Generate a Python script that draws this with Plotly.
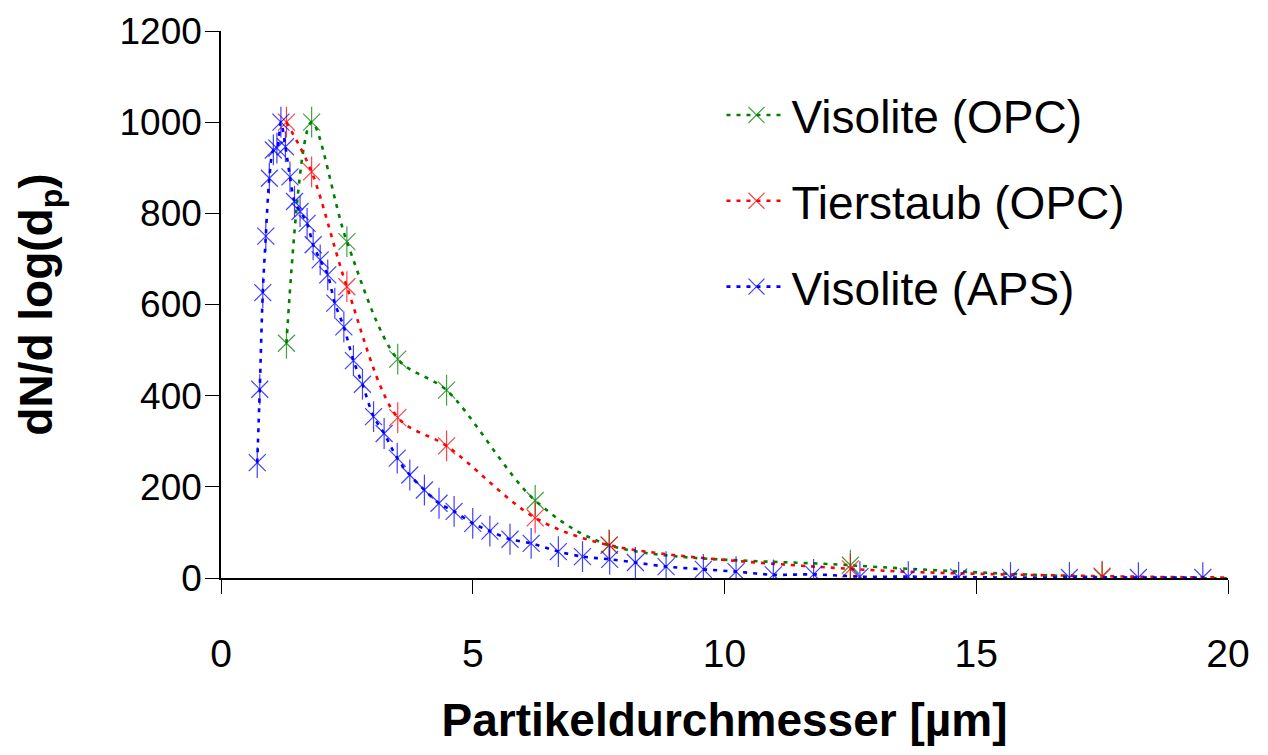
import plotly.graph_objects as go

# ---- data ----
opc_x = [1.30, 1.80, 2.50, 3.51, 4.48, 6.24, 7.71, 12.5, 17.5, 22.5]
visolite_opc_y = [515, 1000, 738, 480, 412, 170, 72, 28, 2, 0]
tierstaub_opc_y = [1000, 891, 639, 352, 290, 132, 72, 20, 4, 0]

aps_x = [0.72, 0.77, 0.83, 0.89, 0.96, 1.04, 1.11, 1.19, 1.28, 1.37, 1.46, 1.57,
         1.71, 1.83, 1.97, 2.12, 2.26, 2.44, 2.63, 2.81, 3.03, 3.24, 3.50, 3.75,
         4.04, 4.33, 4.63, 5.00, 5.34, 5.74, 6.16, 6.70, 7.18, 7.72, 8.23, 8.84,
         9.58, 10.23, 10.97, 11.77, 12.69, 13.65, 14.65, 15.68, 16.85, 18.22, 19.50]
visolite_aps_y = [253, 414, 626, 750, 877, 939, 943, 1000, 946, 880, 826, 804,
                  778, 731, 698, 665, 603, 551, 477, 425, 354, 317, 263, 226,
                  193, 164, 146, 120, 103, 85, 76, 58, 47, 41, 34, 25,
                  19, 14, 7, 8, 3, 3, 2, 1, 1, 1, 1]

series = [
    ("Visolite (OPC)", opc_x, visolite_opc_y, "#008000"),
    ("Tierstaub (OPC)", opc_x, tierstaub_opc_y, "#FF0000"),
    ("Visolite (APS)", aps_x, visolite_aps_y, "#0000FF"),
]

fig = go.Figure()
for i, (name, xs, ys, col) in enumerate(series):
    fig.add_trace(go.Scatter(
        x=xs, y=ys, name=name, mode="lines+markers", legendgroup=name,
        line=dict(color=col, width=2.6, dash="4px,6px", shape="spline", smoothing=0.9),
        marker=dict(symbol="x-thin-open", size=17, color=col, opacity=0.75,
                    line=dict(color=col, width=1.2)),
        cliponaxis=True,
    ))
    fig.add_trace(go.Scatter(
        x=xs, y=ys, name=name, mode="markers", legendgroup=name, showlegend=False,
        marker=dict(symbol="line-ns-open", size=22, color=col, opacity=0.75,
                    line=dict(color=col, width=1.2)),
        hoverinfo="skip",
    ))

fig.update_layout(
    width=1268, height=755,
    margin=dict(l=221, r=40, t=31, b=177),
    plot_bgcolor="white", paper_bgcolor="white",
    font=dict(family="Liberation Sans, Arial, sans-serif", color="black"),
    legend=dict(x=0.497, y=0.913, xanchor="left", yanchor="top",
                font=dict(size=46), bgcolor="rgba(0,0,0,0)",
                tracegroupgap=23, itemwidth=60),
    showlegend=True,
)
fig.update_xaxes(
    range=[0, 20], tickvals=[0, 5, 10, 15, 20],
    ticks="outside", ticklen=14, tickwidth=1, tickcolor="black",
    showline=True, linecolor="black", linewidth=1.5,
    showgrid=False, zeroline=False,
    tickfont=dict(size=39), ticklabelstandoff=26,
    title=dict(text="<b>Partikeldurchmesser [µm]</b>", font=dict(size=46), standoff=30),
)
fig.update_yaxes(
    range=[0, 1200], tickvals=[0, 200, 400, 600, 800, 1000, 1200],
    ticks="outside", ticklen=14, tickwidth=1, tickcolor="black",
    showline=True, linecolor="black", linewidth=1.5,
    showgrid=False, zeroline=False,
    tickfont=dict(size=37), ticklabelstandoff=-4,
    title=dict(text="<b>dN/d log(d<sub>p</sub>)</b>", font=dict(size=46), standoff=52),
)

fig.write_html("out.html")
